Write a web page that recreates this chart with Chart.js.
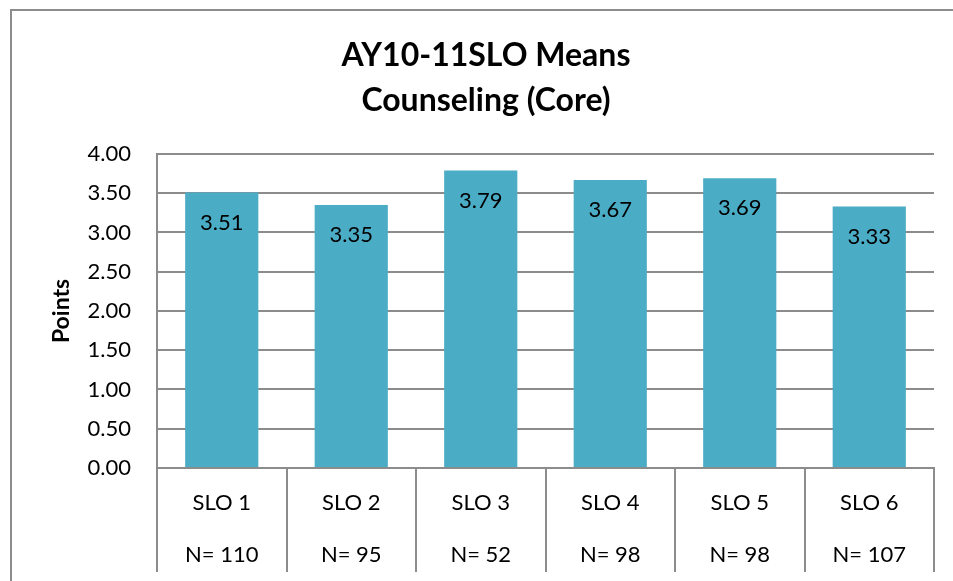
<!DOCTYPE html>
<html>
<head>
<meta charset="utf-8">
<script src="https://cdn.jsdelivr.net/npm/chart.js@4.4.1/dist/chart.umd.min.js"></script>
<style>
  html, body { margin: 0; padding: 0; background: #fff; overflow: hidden; }
  canvas { display: block; }
</style>
</head>
<body>
<canvas id="chart" width="953" height="581"></canvas>
<script>
const categories = ['SLO 1', 'SLO 2', 'SLO 3', 'SLO 4', 'SLO 5', 'SLO 6'];
const counts = ['N= 110', 'N= 95', 'N= 52', 'N= 98', 'N= 98', 'N= 107'];
const means = [3.51, 3.35, 3.79, 3.67, 3.69, 3.33];
const titleLines = ['AY10-11SLO Means', 'Counseling (Core)'];

const FONT = 'Lato, "Liberation Sans", sans-serif';
const GRID = '#8c8c8c';

// outer frame, only top and left edges are visible in the window
const framePlugin = {
  id: 'frame',
  beforeDraw(chart) {
    const ctx = chart.ctx;
    ctx.save();
    ctx.strokeStyle = GRID;
    ctx.lineWidth = 2;
    ctx.beginPath();
    ctx.moveTo(11, 600);
    ctx.lineTo(11, 10);
    ctx.lineTo(970, 10);
    ctx.stroke();
    ctx.restore();
  }
};

// value labels inside the top of each bar
const valueLabels = {
  id: 'valueLabels',
  afterDatasetsDraw(chart) {
    const ctx = chart.ctx;
    const meta = chart.getDatasetMeta(0);
    ctx.save();
    ctx.font = '22px ' + FONT;
    ctx.fillStyle = '#000';
    ctx.textAlign = 'center';
    ctx.textBaseline = 'middle';
    meta.data.forEach((bar, i) => {
      ctx.fillText(means[i].toFixed(2), bar.x, bar.y + 30);
    });
    ctx.restore();
  }
};

new Chart(document.getElementById('chart'), {
  type: 'bar',
  data: {
    labels: categories.map((c, i) => [c, counts[i]]),
    datasets: [{
      data: means,
      backgroundColor: '#4bacc6',
      borderWidth: 0,
      barPercentage: 0.565,
      categoryPercentage: 1
    }]
  },
  options: {
    responsive: false,
    animation: false,
    layout: { padding: { left: 38, right: 19, top: 0, bottom: 0 } },
    plugins: {
      legend: { display: false },
      tooltip: { enabled: false },
      title: {
        display: true,
        text: titleLines,
        color: '#000',
        font: { family: FONT, size: 32, weight: 'bold', lineHeight: 1.406 },
        padding: { top: 33, bottom: 31 }
      }
    },
    scales: {
      x: {
        afterFit(scale) { scale.height = 113; },
        grid: {
          display: true,
          offset: true,
          drawOnChartArea: false,
          drawTicks: true,
          tickLength: 104,
          color: GRID,
          lineWidth: 2
        },
        border: { display: true, color: GRID, width: 2 },
        ticks: {
          color: '#000',
          font: { family: FONT, size: 22, lineHeight: 2.364 },
          padding: -95,
          maxRotation: 0,
          autoSkip: false
        }
      },
      y: {
        min: 0,
        max: 4,
        afterFit(scale) { scale.width = 119; },
        grid: { color: GRID, lineWidth: 2, drawTicks: false },
        border: { display: true, color: GRID, width: 2 },
        ticks: {
          stepSize: 0.5,
          color: '#000',
          padding: 26,
          font: { family: FONT, size: 22 },
          callback: v => v.toFixed(2)
        },
        title: {
          display: true,
          text: 'Points',
          color: '#000',
          font: { family: FONT, size: 23, weight: 'bold' },
          padding: { top: 10, bottom: 0 }
        }
      }
    }
  },
  plugins: [framePlugin, valueLabels]
});
</script>
</body>
</html>
